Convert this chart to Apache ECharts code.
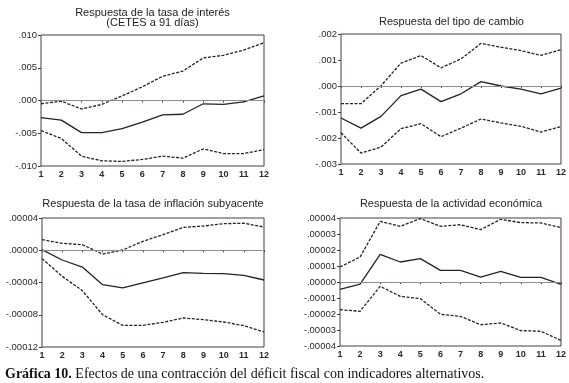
<!DOCTYPE html>
<html><head><meta charset="utf-8">
<script src="https://cdn.jsdelivr.net/npm/echarts@6/dist/echarts.min.js"></script>
<style>html,body{margin:0;padding:0;background:#fff}#c{width:569px;height:383px}</style>
</head><body><div id="c"></div>
<script>
const periods = ['1','2','3','4','5','6','7','8','9','10','11','12'];

// Panel 1: Respuesta de la tasa de interés (CETES a 91 días)
const rateUpper = [-0.0005,-0.0001,-0.0013,-0.0006,0.0007,0.0021,0.0037,0.0045,0.0065,0.0069,0.0077,0.0088];
const rateMid   = [-0.0026,-0.0030,-0.0049,-0.0049,-0.0043,-0.0033,-0.0022,-0.0021,-0.0005,-0.0006,-0.0002,0.0007];
const rateLower = [-0.0046,-0.0058,-0.0085,-0.0092,-0.0093,-0.0090,-0.0085,-0.0088,-0.0074,-0.0081,-0.0081,-0.0075];

// Panel 2: Respuesta del tipo de cambio
const fxUpper = [-0.00068,-0.00068,0.00001,0.00088,0.00117,0.00070,0.00104,0.00164,0.00149,0.00136,0.00118,0.00140];
const fxMid   = [-0.00123,-0.00162,-0.00117,-0.00037,-0.00012,-0.00060,-0.00030,0.00017,0.00000,-0.00012,-0.00030,-0.00008];
const fxLower = [-0.00180,-0.00258,-0.00235,-0.00164,-0.00145,-0.00195,-0.00162,-0.00127,-0.00142,-0.00155,-0.00177,-0.00156];

// Panel 3: Respuesta de la tasa de inflación subyacente
const infUpper = [0.0000131,0.0000086,0.0000069,-0.0000047,0.0000003,0.0000111,0.0000193,0.0000284,0.0000300,0.0000330,0.0000335,0.0000288];
const infMid   = [0.0000007,-0.0000121,-0.0000208,-0.0000427,-0.0000468,-0.0000406,-0.0000344,-0.0000278,-0.0000286,-0.0000290,-0.0000311,-0.0000369];
const infLower = [-0.0000104,-0.0000323,-0.0000501,-0.0000799,-0.0000931,-0.0000931,-0.0000894,-0.0000840,-0.0000861,-0.0000890,-0.0000935,-0.0001014];

// Panel 4: Respuesta de la actividad económica
const actUpper = [0.0000094,0.0000156,0.0000379,0.0000348,0.0000396,0.0000348,0.0000358,0.0000327,0.0000392,0.0000371,0.0000369,0.0000340];
const actMid   = [-0.0000046,-0.0000013,0.0000173,0.0000125,0.0000146,0.0000073,0.0000073,0.0000031,0.0000067,0.0000029,0.0000029,-0.0000015];
const actLower = [-0.0000173,-0.0000183,-0.0000027,-0.0000090,-0.0000104,-0.0000202,-0.0000215,-0.0000267,-0.0000256,-0.0000304,-0.0000308,-0.0000365];

const titles = [
  ['Respuesta de la tasa de interés','(CETES a 91 días)'],
  ['Respuesta del tipo de cambio'],
  ['Respuesta de la tasa de inflación subyacente'],
  ['Respuesta de la actividad económica']
];
const captionBold = 'Gráfica 10.';
const captionText = ' Efectos de una contracción del déficit fiscal con indicadores alternativos.';

const panels = [
  {u:rateUpper,m:rateMid,l:rateLower,min:-0.010,max:0.010,iv:0.005,dec:3},
  {u:fxUpper,m:fxMid,l:fxLower,min:-0.003,max:0.002,iv:0.001,dec:3},
  {u:infUpper,m:infMid,l:infLower,min:-0.00012,max:0.00004,iv:0.00004,dec:5},
  {u:actUpper,m:actMid,l:actLower,min:-0.00004,max:0.00004,iv:0.00001,dec:5}
];
const grids = [
  {left:41,top:35,width:223,height:131},
  {left:341,top:34,width:221,height:130},
  {left:42,top:218,width:222,height:129},
  {left:340,top:218,width:222,height:128}
];
const frame = '#4a3848', lineCol = '#2a1e2a', zeroCol = '#9a8898', txt = '#2a2a2a';
const fmt = d => v => { let s = (+v).toFixed(d); return s.replace('0.', '.'); };

const option = {
  animation:false,
  grid: grids.map(g => Object.assign({show:true,borderColor:frame,borderWidth:1,backgroundColor:'transparent'}, g)),
  xAxis: grids.map((g,i) => ({
    gridIndex:i,type:'category',data:periods,boundaryGap:false,
    axisLine:{show:false},axisTick:{show:true,length:2,lineStyle:{color:frame}},
    axisLabel:{fontFamily:'Liberation Sans',fontSize:9,color:txt,margin:4,interval:0,fontWeight:'bold'},
    splitLine:{show:false}
  })),
  yAxis: panels.map((p,i) => ({
    gridIndex:i,type:'value',min:p.min,max:p.max,interval:p.iv,
    axisLine:{show:false},axisTick:{show:true,length:3,lineStyle:{color:frame}},
    axisLabel:{fontFamily:'Liberation Sans',fontSize:9.5,color:txt,margin:4,formatter:fmt(p.dec)},
    splitLine:{show:false}
  })),
  series: [],
  graphic: []
};
panels.forEach((p,i) => {
  const base = {type:'line',xAxisIndex:i,yAxisIndex:i,symbol:'none',silent:true};
  option.series.push(Object.assign({}, base, {data:p.u,lineStyle:{color:lineCol,width:1.3,type:[3,1.5]}}));
  option.series.push(Object.assign({}, base, {data:p.m,lineStyle:{color:lineCol,width:1.3},
    markLine:{silent:true,symbol:'none',label:{show:false},lineStyle:{color:zeroCol,width:1,type:'solid'},data:[{yAxis:0}]}}));
  option.series.push(Object.assign({}, base, {data:p.l,lineStyle:{color:lineCol,width:1.3,type:[3,1.5]}}));
});
const titleY = [[13,23],[22],[204],[204]];
titles.forEach((t,i) => {
  const g = grids[i];
  t.forEach((line,j) => {
    option.graphic.push({type:'text',x:g.left+g.width/2,y:titleY[i][j],
      style:{text:line,fill:'#222',font:'11px "Liberation Sans"',textAlign:'center',textVerticalAlign:'middle'}});
  });
});
option.graphic.push({type:'text',x:5,y:374,
  style:{text:'{b|'+captionBold+'}'+captionText,fill:'#111',font:'14px "Liberation Serif"',textVerticalAlign:'middle',
    rich:{b:{fontWeight:'bold',fontFamily:'Liberation Serif',fontSize:14,fill:'#111'}}}});

const chart = echarts.init(document.getElementById('c'), null, {renderer:'canvas'});
chart.setOption(option);
</script></body></html>
